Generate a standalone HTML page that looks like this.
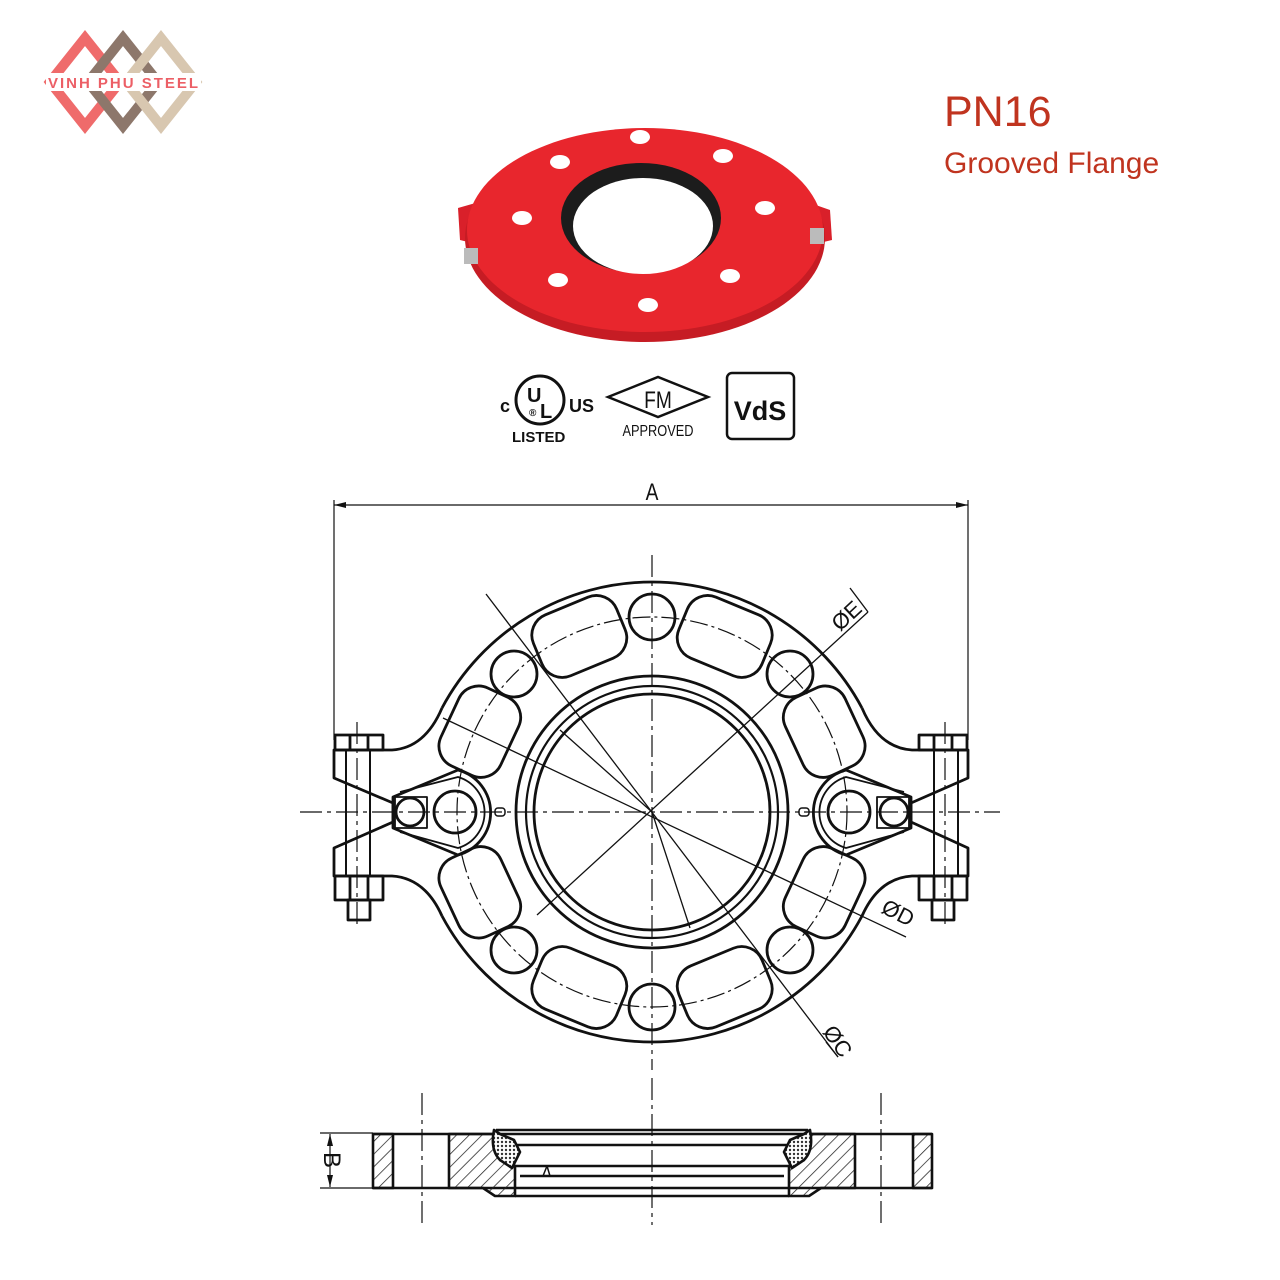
<!DOCTYPE html>
<html><head><meta charset="utf-8"><style>
html,body{margin:0;padding:0;background:#fff;}
svg{display:block}
</style></head><body>
<svg width="1280" height="1280" viewBox="0 0 1280 1280" xmlns="http://www.w3.org/2000/svg">
<defs>
<pattern id="hatch" width="9" height="9" patternUnits="userSpaceOnUse" patternTransform="rotate(45)">
<line x1="0" y1="0" x2="0" y2="9" stroke="#222" stroke-width="1.5"/>
</pattern>
<pattern id="dots" width="4" height="4" patternUnits="userSpaceOnUse">
<rect width="4" height="4" fill="#fff"/><circle cx="2" cy="2" r="1.2" fill="#333"/>
</pattern>
<marker id="ar" markerWidth="12" markerHeight="8" refX="12" refY="4" orient="auto" markerUnits="userSpaceOnUse">
<path d="M0,1 L12,4 L0,7 Z" fill="#111"/></marker>
</defs>

<!-- Logo -->
<g>
<path d="M50,82 L85,38 L120,82 L85,126 Z" fill="none" stroke="#ef6b6b" stroke-width="10"/>
<path d="M88,82 L123,38 L158,82 L123,126 Z" fill="none" stroke="#8d776b" stroke-width="10"/>
<path d="M126,82 L161,38 L196,82 L161,126 Z" fill="none" stroke="#d8c7b0" stroke-width="10"/>
<rect x="46" y="73" width="155" height="18" fill="#fff"/>
<text x="123" y="88" text-anchor="middle" font-family="Liberation Sans, sans-serif" font-size="15" fill="#ec5f66" font-weight="bold" textLength="150">VINH PHU STEEL</text>
</g>

<!-- Title -->
<text x="944" y="126" font-family="Liberation Sans, sans-serif" font-size="43" fill="#c0341f">PN16</text>
<text x="944" y="173" font-family="Liberation Sans, sans-serif" font-size="30" fill="#c0341f">Grooved Flange</text>

<!-- Photo -->
<g>
<path d="M458,208 L500,196 L790,196 L830,210 L832,240 L790,250 L500,250 L460,240 Z" fill="#d9202a"/>
<ellipse cx="645" cy="238" rx="180" ry="104" fill="#c61c24"/>
<ellipse cx="645" cy="230" rx="178" ry="102" fill="#e8262d"/>
<ellipse cx="641" cy="218" rx="80" ry="55" fill="#1c1c1c"/>
<ellipse cx="643" cy="226" rx="70" ry="48" fill="#fff"/>
<g fill="#fff"><ellipse cx="640" cy="137" rx="10" ry="7"/><ellipse cx="560" cy="162" rx="10" ry="7"/><ellipse cx="723" cy="156" rx="10" ry="7"/><ellipse cx="522" cy="218" rx="10" ry="7"/><ellipse cx="765" cy="208" rx="10" ry="7"/><ellipse cx="558" cy="280" rx="10" ry="7"/><ellipse cx="730" cy="276" rx="10" ry="7"/><ellipse cx="648" cy="305" rx="10" ry="7"/></g>
<rect x="464" y="248" width="14" height="16" fill="#bbb"/>
<rect x="810" y="228" width="14" height="16" fill="#bbb"/>
</g>

<!-- Certifications -->
<g font-family="Liberation Sans, sans-serif" font-weight="bold" fill="#111">
<text x="500" y="412" font-size="18">c</text>
<circle cx="540" cy="400" r="24" fill="none" stroke="#111" stroke-width="3"/>
<text x="527" y="402" font-size="20">U</text>
<text x="540" y="418" font-size="20">L</text>
<text x="529" y="416" font-size="10">®</text>
<text x="569" y="412" font-size="18">US</text>
<text x="512" y="442" font-size="15">LISTED</text>
<path d="M608,397 L658,377 L708,397 L658,417 Z" fill="none" stroke="#111" stroke-width="2.5"/>
<text x="658" y="408" font-size="24" text-anchor="middle" font-weight="normal" transform="translate(658 0) scale(0.8 1) translate(-658 0)">FM</text>
<text x="658" y="436" font-size="16" text-anchor="middle" font-weight="normal" transform="translate(658 0) scale(0.8 1) translate(-658 0)">APPROVED</text>
<rect x="727" y="373" width="67" height="66" rx="5" fill="none" stroke="#111" stroke-width="2.5"/>
<text x="760" y="420" font-size="27" text-anchor="middle">VdS</text>
</g>

<!-- Main drawing -->
<g fill="none" stroke="#111" stroke-width="2.8" stroke-linejoin="round">
<g stroke-width="1.2">
<line x1="334" y1="500" x2="334" y2="740"/>
<line x1="968" y1="500" x2="968" y2="740"/>
<line x1="480" y1="505" x2="334" y2="505" marker-end="url(#ar)"/>
<line x1="480" y1="505" x2="968" y2="505" marker-end="url(#ar)"/>
</g>
<path d="M442,708 Q425,748 392,750 L334,750 L334,778 L393,803 L393,822 L334,848 L334,876 L392,876 Q425,878 442,916" fill="#fff"/>
<path d="M862,708 Q879,748 912,750 L968,750 L968,778 L911,803 L911,822 L968,848 L968,876 L912,876 Q879,878 862,916" fill="#fff"/>
<path d="M442,708 A238,238 0 0 1 862,708 M862,916 A238,238 0 0 1 442,916" />
<line x1="346" y1="750" x2="346" y2="876" stroke-width="2"/>
<line x1="370" y1="750" x2="370" y2="876" stroke-width="2"/>
<line x1="934" y1="750" x2="934" y2="876" stroke-width="2"/>
<line x1="958" y1="750" x2="958" y2="876" stroke-width="2"/>
<rect x="335" y="735" width="48" height="15"/><line x1="350" y1="735" x2="350" y2="750"/><line x1="368" y1="735" x2="368" y2="750"/>
<rect x="335" y="876" width="48" height="24"/><line x1="350" y1="876" x2="350" y2="900"/><line x1="368" y1="876" x2="368" y2="900"/>
<rect x="348" y="900" width="22" height="20"/>
<rect x="919" y="735" width="48" height="15"/><line x1="934" y1="735" x2="934" y2="750"/><line x1="952" y1="735" x2="952" y2="750"/>
<rect x="919" y="876" width="48" height="24"/><line x1="934" y1="876" x2="934" y2="900"/><line x1="952" y1="876" x2="952" y2="900"/>
<rect x="932" y="900" width="22" height="20"/>
<path d="M393,797 L458,770 A44,44 0 0 1 458,855 L393,828 Z"/>
<path d="M400,792 L458,777 A37,37 0 0 1 458,848 L400,832" stroke-width="1.8"/>
<rect x="395" y="797" width="32" height="31" stroke-width="1.8"/>
<circle cx="410" cy="812" r="14"/>
<circle cx="455" cy="812" r="21"/>
<path d="M911,797 L846,770 A44,44 0 0 0 846,855 L911,828 Z"/>
<path d="M904,792 L846,777 A37,37 0 0 0 846,848 L904,832" stroke-width="1.8"/>
<rect x="877" y="797" width="32" height="31" stroke-width="1.8"/>
<circle cx="894" cy="812" r="14"/>
<circle cx="849" cy="812" r="21"/>
<rect x="495" y="808" width="10" height="8" rx="3" stroke-width="1.5"/>
<rect x="799" y="808" width="10" height="8" rx="3" stroke-width="1.5"/>
<circle cx="652" cy="812" r="136"/>
<circle cx="652" cy="812" r="126" stroke-width="2.2"/>
<circle cx="652" cy="812" r="118"/>
<circle cx="652" cy="617" r="23"/><circle cx="790" cy="674" r="23"/><circle cx="514" cy="674" r="23"/>
<circle cx="790" cy="950" r="23"/><circle cx="514" cy="950" r="23"/><circle cx="652" cy="1007" r="23"/>
<g>
<rect x="607" y="589" width="90" height="66" rx="22" transform="rotate(22.5 652 812)"/>
<rect x="607" y="589" width="90" height="66" rx="22" transform="rotate(-22.5 652 812)"/>
<rect x="609" y="589" width="86" height="66" rx="22" transform="rotate(65 652 812)"/>
<rect x="609" y="589" width="86" height="66" rx="22" transform="rotate(-65 652 812)"/>
<rect x="609" y="589" width="86" height="66" rx="22" transform="rotate(115 652 812)"/>
<rect x="609" y="589" width="86" height="66" rx="22" transform="rotate(-115 652 812)"/>
<rect x="607" y="589" width="90" height="66" rx="22" transform="rotate(157.5 652 812)"/>
<rect x="607" y="589" width="90" height="66" rx="22" transform="rotate(-157.5 652 812)"/>
</g>
<circle cx="652" cy="812" r="195" stroke-width="1.2" stroke-dasharray="18,4,3,4"/>
<g stroke-width="1.2" stroke-dasharray="22,5,4,5">
<line x1="652" y1="555" x2="652" y2="1070"/>
<line x1="300" y1="812" x2="1000" y2="812"/>
<line x1="357" y1="722" x2="357" y2="925"/>
<line x1="945" y1="722" x2="945" y2="925"/>
</g>
<g stroke-width="1.3">
<line x1="486" y1="594" x2="838" y2="1057"/>
<line x1="868" y1="612" x2="537" y2="915"/>
<line x1="443" y1="718" x2="906" y2="937"/>
<line x1="652" y1="812" x2="690" y2="928"/>
<line x1="652" y1="812" x2="560" y2="730"/>
<line x1="838" y1="1057" x2="826" y2="1042"/>
<line x1="868" y1="612" x2="850" y2="588"/>
</g>
</g>
<g font-family="Liberation Sans, sans-serif" font-size="22" fill="#111">
<text x="652" y="500" text-anchor="middle" font-size="24" transform="translate(652 0) scale(0.8 1) translate(-652 0)">A</text>
<text x="0" y="0" transform="translate(840 632) rotate(-43)">ØE</text>
<text x="0" y="0" transform="translate(880 912) rotate(27)">ØD</text>
<text x="0" y="0" transform="translate(822 1032) rotate(55)">ØC</text>
</g>

<!-- Section view -->
<g fill="none" stroke="#111" stroke-width="2.6" stroke-linejoin="round">
<rect x="373" y="1134" width="20" height="54" fill="url(#hatch)"/>
<rect x="913" y="1134" width="19" height="54" fill="url(#hatch)"/>
<line x1="373" y1="1134" x2="932" y2="1134"/>
<line x1="373" y1="1188" x2="932" y2="1188"/>
<path d="M449,1134 L494,1134 L500,1160 L515,1166 L515,1196 L495,1196 L483,1188 L449,1188 Z" fill="url(#hatch)"/>
<path d="M855,1134 L810,1134 L804,1160 L789,1166 L789,1196 L809,1196 L821,1188 L855,1188 Z" fill="url(#hatch)"/>
<line x1="515" y1="1196" x2="789" y2="1196"/>
<line x1="515" y1="1166" x2="789" y2="1166"/>
<line x1="520" y1="1176" x2="784" y2="1176"/>
<line x1="496" y1="1130" x2="808" y2="1130"/>
<line x1="513" y1="1145" x2="791" y2="1145"/>
<path d="M494,1130 Q490,1150 500,1160 L512,1168 L520,1152 L514,1140 L500,1134 Z" fill="url(#dots)"/>
<path d="M810,1130 Q814,1150 804,1160 L792,1168 L784,1152 L790,1140 L804,1134 Z" fill="url(#dots)"/>
<path d="M543,1176 L547,1166 L550,1176" stroke-width="1.5"/>
<g stroke-width="1.2" stroke-dasharray="22,5,4,5">
<line x1="652" y1="1078" x2="652" y2="1225"/>
<line x1="422" y1="1093" x2="422" y2="1225"/>
<line x1="881" y1="1093" x2="881" y2="1225"/>
</g>
<g stroke-width="1.2">
<line x1="320" y1="1133" x2="373" y2="1133"/>
<line x1="320" y1="1188" x2="373" y2="1188"/>
<line x1="330" y1="1160" x2="330" y2="1134" marker-end="url(#ar)"/>
<line x1="330" y1="1160" x2="330" y2="1187" marker-end="url(#ar)"/>
</g>
</g>
<text x="0" y="0" transform="translate(324 1160) rotate(90)" text-anchor="middle" font-family="Liberation Sans, sans-serif" font-size="24" fill="#111">B</text>
</svg>
</body></html>
